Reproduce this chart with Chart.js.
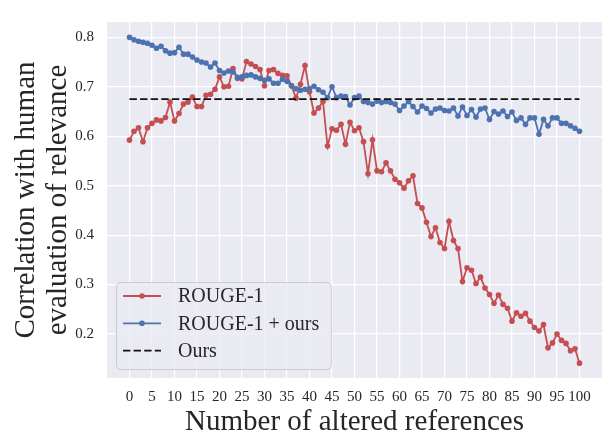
<!DOCTYPE html>
<html>
<head>
<meta charset="utf-8">
<script src="https://cdn.jsdelivr.net/npm/chart.js@4.4.1/dist/chart.umd.min.js"></script>
<style>
  body { margin: 0; background: #fff; }
</style>
</head>
<body>
<canvas id="corrChart" width="612" height="448"></canvas>
<script>
// number of altered references (x values)
const alteredRefs = [0, 1, 2, 3, 4, 5, 6, 7, 8, 9, 10, 11, 12, 13, 14, 15, 16, 17, 18, 19, 20,
    21, 22, 23, 24, 25, 26, 27, 28, 29, 30, 31, 32, 33, 34, 35, 36, 37, 38, 39, 40,
    41, 42, 43, 44, 45, 46, 47, 48, 49, 50, 51, 52, 53, 54, 55, 56, 57, 58, 59, 60,
    61, 62, 63, 64, 65, 66, 67, 68, 69, 70, 71, 72, 73, 74, 75, 76, 77, 78, 79, 80,
    81, 82, 83, 84, 85, 86, 87, 88, 89, 90, 91, 92, 93, 94, 95, 96, 97, 98, 99, 100];

const rougeValues = [0.592, 0.610, 0.617, 0.589, 0.617, 0.626, 0.633, 0.631, 0.638, 0.669,
    0.631, 0.646, 0.665, 0.669, 0.679, 0.660, 0.660, 0.683, 0.685, 0.695,
    0.720, 0.700, 0.701, 0.737, 0.717, 0.716, 0.751, 0.746, 0.741, 0.735,
    0.702, 0.733, 0.735, 0.727, 0.723, 0.722, 0.702, 0.677, 0.705, 0.743,
    0.690, 0.647, 0.657, 0.670, 0.580, 0.615, 0.612, 0.624, 0.584, 0.628,
    0.611, 0.617, 0.589, 0.524, 0.593, 0.530, 0.528, 0.546, 0.530, 0.513,
    0.506, 0.495, 0.510, 0.520, 0.464, 0.455, 0.426, 0.397, 0.415, 0.385,
    0.373, 0.428, 0.389, 0.373, 0.306, 0.334, 0.329, 0.302, 0.315, 0.293,
    0.280, 0.262, 0.279, 0.260, 0.252, 0.226, 0.243, 0.236, 0.242, 0.226,
    0.213, 0.206, 0.219, 0.172, 0.182, 0.200, 0.187, 0.181, 0.166, 0.170,
    0.141];

const rougeOursValues = [0.800, 0.795, 0.792, 0.790, 0.788, 0.784, 0.778, 0.782, 0.773, 0.768,
    0.769, 0.780, 0.766, 0.766, 0.760, 0.754, 0.750, 0.748, 0.740, 0.748,
    0.733, 0.728, 0.732, 0.730, 0.719, 0.720, 0.723, 0.724, 0.720, 0.717,
    0.713, 0.716, 0.707, 0.707, 0.715, 0.711, 0.702, 0.696, 0.693, 0.695,
    0.696, 0.701, 0.694, 0.689, 0.678, 0.700, 0.678, 0.681, 0.680, 0.663,
    0.678, 0.681, 0.670, 0.668, 0.665, 0.671, 0.668, 0.670, 0.668, 0.665,
    0.652, 0.661, 0.670, 0.660, 0.649, 0.661, 0.656, 0.647, 0.655, 0.657,
    0.652, 0.651, 0.657, 0.641, 0.659, 0.642, 0.654, 0.639, 0.655, 0.657,
    0.634, 0.650, 0.645, 0.651, 0.640, 0.649, 0.632, 0.637, 0.624, 0.637,
    0.637, 0.604, 0.634, 0.621, 0.637, 0.637, 0.626, 0.626, 0.621, 0.616,
    0.610];

// "Ours" is a flat reference value across the whole range
const oursValue = 0.675;
const oursRange = [0, 100];

const xTicks = [0, 5, 10, 15, 20, 25, 30, 35, 40, 45, 50, 55, 60, 65, 70, 75, 80, 85, 90, 95, 100];
const yTicks = [0.2, 0.3, 0.4, 0.5, 0.6, 0.7, 0.8];

const serif = '"Liberation Serif", "DejaVu Serif", serif';
const textColor = '#262626';

function toPoints(values) {
    return values.map((v, i) => ({ x: alteredRefs[i], y: v }));
}

// grey plot background (seaborn darkgrid look)
const plotBackground = {
    id: 'plotBackground',
    beforeDraw(chart) {
        const { ctx, chartArea: a } = chart;
        ctx.save();
        ctx.fillStyle = '#eaeaf2';
        ctx.fillRect(a.left, a.top, a.right - a.left, a.bottom - a.top);
        ctx.restore();
    }
};

// legend drawn inside the plot, lower left
const innerLegend = {
    id: 'innerLegend',
    afterDraw(chart) {
        const ctx = chart.ctx;
        const items = chart.data.datasets;
        ctx.save();
        ctx.font = '20px ' + serif;
        const textW = Math.max(...items.map(d => ctx.measureText(d.label).width));
        const x = 116.5, y = 282.5, h = 87;
        const w = 178 - x + textW + 12;

        ctx.beginPath();
        ctx.roundRect(x, y, w, h, 4);
        ctx.fillStyle = 'rgba(234, 234, 242, 0.8)';
        ctx.fill();
        ctx.strokeStyle = '#cccccc';
        ctx.lineWidth = 1;
        ctx.stroke();

        items.forEach((d, i) => {
            const ry = y + 13.5 + i * 27.3;
            ctx.beginPath();
            ctx.setLineDash(d.borderDash || []);
            ctx.strokeStyle = d.borderColor;
            ctx.lineWidth = d.borderWidth;
            ctx.moveTo(123, ry);
            ctx.lineTo(161, ry);
            ctx.stroke();
            ctx.setLineDash([]);
            if (d.pointRadius > 0) {
                ctx.beginPath();
                ctx.arc(142, ry, d.pointRadius, 0, Math.PI * 2);
                ctx.fillStyle = d.borderColor;
                ctx.fill();
            }
            ctx.fillStyle = textColor;
            ctx.textBaseline = 'middle';
            ctx.fillText(d.label, 178, ry + 1);
        });
        ctx.restore();
    }
};

const ctx = document.getElementById('corrChart').getContext('2d');

new Chart(ctx, {
    type: 'line',
    data: {
        datasets: [
            {
                label: 'ROUGE-1',
                data: toPoints(rougeValues),
                borderColor: '#c44e52',
                backgroundColor: '#c44e52',
                borderWidth: 1.8,
                pointRadius: 2.8,
                pointBorderWidth: 0,
                order: 3
            },
            {
                label: 'ROUGE-1 + ours',
                data: toPoints(rougeOursValues),
                borderColor: '#4c72b0',
                backgroundColor: '#4c72b0',
                borderWidth: 1.8,
                pointRadius: 2.8,
                pointBorderWidth: 0,
                order: 2
            },
            {
                label: 'Ours',
                data: oursRange.map(v => ({ x: v, y: oursValue })),
                borderColor: '#111111',
                backgroundColor: '#111111',
                borderWidth: 1.8,
                borderDash: [7.4, 3.2],
                pointRadius: 0,
                order: 1
            }
        ]
    },
    options: {
        responsive: false,
        animation: false,
        layout: { padding: { top: 10, right: 10, left: 0, bottom: 0 } },
        elements: { line: { tension: 0 } },
        plugins: {
            legend: { display: false },
            tooltip: { enabled: false }
        },
        scales: {
            x: {
                type: 'linear',
                min: -5,
                max: 105,
                afterBuildTicks: s => { s.ticks = xTicks.map(v => ({ value: v })); },
                afterFit: s => { s.height = 70; },
                grid: { color: '#ffffff', lineWidth: 1.2, drawTicks: false },
                border: { display: false },
                ticks: {
                    autoSkip: false,
                    maxRotation: 0,
                    padding: 10,
                    color: textColor,
                    font: { family: serif, size: 15 },
                    callback: v => String(v)
                },
                title: {
                    display: true,
                    text: 'Number of altered references',
                    color: textColor,
                    font: { family: serif, size: 29, lineHeight: 1.2 },
                    padding: { top: 0, bottom: 8 }
                }
            },
            y: {
                min: 0.111,
                max: 0.831,
                afterBuildTicks: s => { s.ticks = yTicks.map(v => ({ value: v })); },
                afterFit: s => { s.width = 107; },
                grid: { color: '#ffffff', lineWidth: 1.2, drawTicks: false },
                border: { display: false },
                ticks: {
                    padding: 13,
                    color: textColor,
                    font: { family: serif, size: 15 },
                    callback: v => v.toFixed(1)
                },
                title: {
                    display: true,
                    text: ['Correlation with human', 'evaluation of relevance'],
                    color: textColor,
                    font: { family: serif, size: 29, lineHeight: 1.08 },
                    padding: { top: 11, bottom: 0 }
                }
            }
        }
    },
    plugins: [plotBackground, innerLegend]
});
</script>
</body>
</html>
